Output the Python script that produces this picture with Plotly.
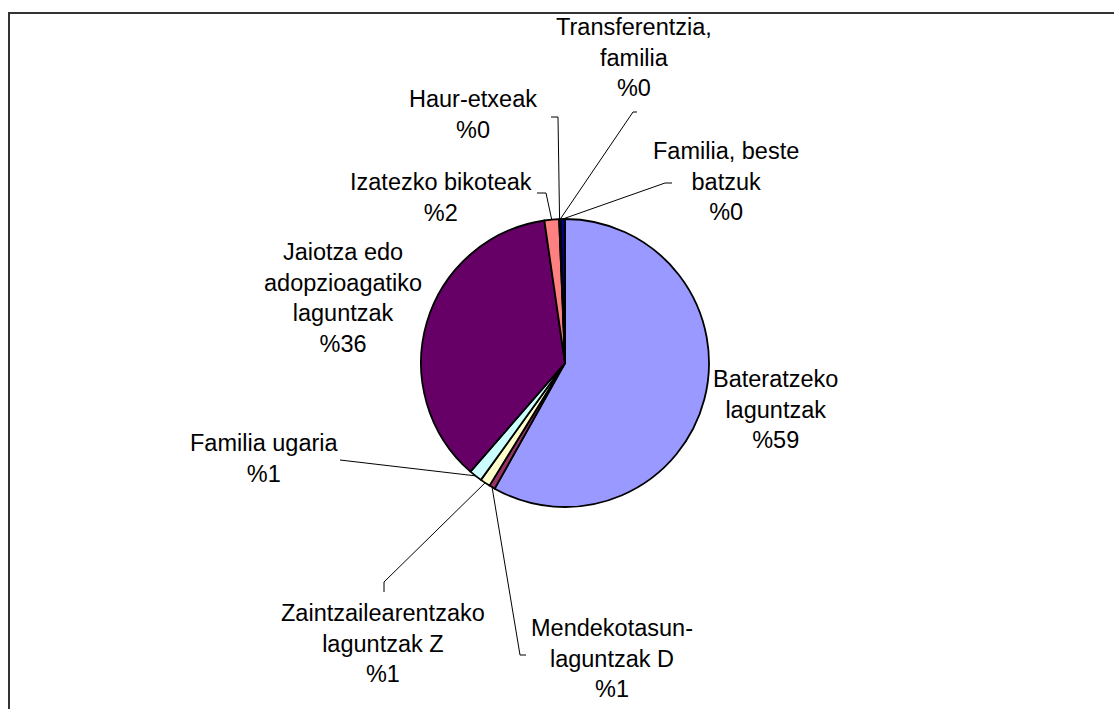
import numpy as np
import plotly.graph_objects as go

# ---- data ----
categories = ["Bateratzeko laguntzak", "Mendekotasun-laguntzak D",
              "Zaintzailearentzako laguntzak Z", "Familia ugaria",
              "Jaiotza edo adopzioagatiko laguntzak", "Izatezko bikoteak",
              "Haur-etxeak", "Transferentzia, familia", "Familia, beste batzuk"]
values = [58.1, 0.67, 1.14, 1.47, 36.3, 1.64, 0.1, 0.05, 0.5]
pct_labels = ["%59", "%1", "%1", "%1", "%36", "%2", "%0", "%0", "%0"]
label_lines = ["Bateratzeko<br>laguntzak", "Mendekotasun-<br>laguntzak D",
               "Zaintzailearentzako<br>laguntzak Z", "Familia ugaria",
               "Jaiotza edo<br>adopzioagatiko<br>laguntzak", "Izatezko bikoteak",
               "Haur-etxeak", "Transferentzia,<br>familia", "Familia, beste<br>batzuk"]
colors = ["#9999FF", "#993366", "#FFFFCC", "#CCFFFF", "#660066",
          "#FF8080", "#0066CC", "#CCCCFF", "#000080"]

# ---- layout (pixel space of the figure) ----
W, H = 1114, 709
CX, CY, R = 565, 363, 144
label_pos = [(775, 409), (612, 658), (383, 643), (264, 458), (343, 298),
             (441, 197), (473, 114), (634, 57), (726, 181)]
# elbow points of leader lines (None = no leader line)
leader_pts = [None,
              [(526, 655), (520, 655)],
              [(384, 592), (384, 582)],
              [(340, 460)],
              None,
              [(537, 193), (546, 193)],
              [(551, 117), (558, 117)],
              [(637, 112), (633, 112)],
              [(672, 183), (665, 183)]]

FONT = dict(family="Liberation Sans, Arial, sans-serif", size=23.5, color="black")

fig = go.Figure()
fig.add_trace(go.Pie(
    labels=categories, values=values, sort=False, direction="clockwise",
    rotation=0, textinfo="none", hoverinfo="label+percent",
    marker=dict(colors=colors, line=dict(color="black", width=1.8)),
    domain=dict(x=[(CX - R) / W, (CX + R) / W],
                y=[(H - CY - R) / H, (H - CY + R) / H]),
    showlegend=False))

# mid angles of slices from the data
vals = np.array(values, dtype=float)
cum = np.cumsum(vals) / vals.sum() * 360.0
start = np.concatenate([[0.0], cum[:-1]])
mid = np.radians((start + cum) / 2.0)

for i, pts in enumerate(leader_pts):
    if pts is None:
        continue
    tip = (CX + R * np.sin(mid[i]), CY - R * np.cos(mid[i]))
    xs = [p[0] for p in pts] + [tip[0]]
    ys = [p[1] for p in pts] + [tip[1]]
    fig.add_trace(go.Scatter(x=xs, y=ys, mode="lines",
                             line=dict(color="black", width=1),
                             hoverinfo="skip", showlegend=False))

for i, (x, y) in enumerate(label_pos):
    fig.add_annotation(x=x, y=y, xref="x", yref="y", showarrow=False,
                       text=label_lines[i] + "<br>" + pct_labels[i],
                       xanchor="center", yanchor="middle", align="center",
                       font=FONT)

# chart frame
fig.add_shape(type="rect", xref="x", yref="y", x0=9, y0=13, x1=W + 20, y1=H + 20,
              line=dict(color="#333333", width=2), fillcolor="rgba(0,0,0,0)")

fig.update_layout(
    width=W, height=H, margin=dict(l=0, r=0, t=0, b=0),
    paper_bgcolor="white", plot_bgcolor="white",
    xaxis=dict(range=[0, W], visible=False, fixedrange=True),
    yaxis=dict(range=[H, 0], visible=False, fixedrange=True),
    font=FONT,
)

fig.write_html("out.html", config={"displayModeBar": False},
               post_script="document.body.style.margin='0';document.body.style.overflow='hidden';")
